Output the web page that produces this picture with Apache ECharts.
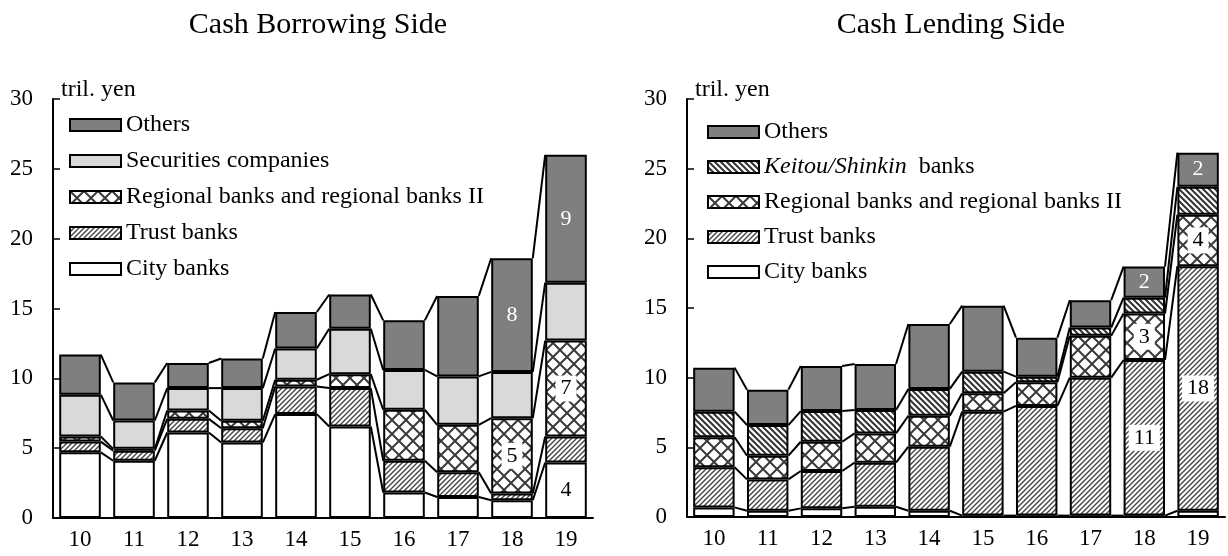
<!DOCTYPE html>
<html>
<head>
<meta charset="utf-8">
<script src="https://cdn.jsdelivr.net/npm/echarts@6/dist/echarts.min.js"></script>
<style>
  html, body { margin: 0; padding: 0; background: #fff; }
  #chart { width: 1228px; height: 556px; }
</style>
</head>
<body>
<div id="chart"></div>
<script>
// years (fiscal, 2010-2019)
const categories = ['10', '11', '12', '13', '14', '15', '16', '17', '18', '19'];

// Cash Borrowing Side, tril. yen (segment sizes, bottom to top)
const borrowCity       = [4.70, 4.10, 6.12, 5.40, 7.44, 6.55, 1.83, 1.50, 1.27, 3.97];
const borrowTrust      = [0.77, 0.72, 0.98, 1.03, 1.98, 2.75, 2.27, 1.77, 0.48, 1.87];
const borrowRegional   = [0.36, 0.13, 0.60, 0.53, 0.48, 1.00, 3.65, 3.40, 5.40, 6.86];
const borrowSecurities = [3.00, 2.03, 1.60, 2.34, 2.24, 3.25, 2.85, 3.47, 3.31, 4.15];
const borrowOthers     = [2.87, 2.73, 1.80, 2.12, 2.61, 2.45, 3.55, 5.76, 8.14, 9.15];

// Cash Lending Side, tril. yen
const lendCity     = [0.69, 0.45, 0.62, 0.74, 0.45, 0.10, 0.10, 0.10, 0.10, 0.45];
const lendTrust    = [2.88, 2.25, 2.68, 3.16, 4.60, 7.46, 7.87, 9.90, 11.17, 17.55];
const lendRegional = [2.15, 1.70, 2.10, 2.10, 2.22, 1.32, 1.70, 3.00, 3.33, 3.70];
const lendKeitou   = [1.84, 2.20, 2.20, 1.68, 1.92, 1.55, 0.40, 0.60, 1.14, 2.00];
const lendOthers   = [3.16, 2.54, 3.24, 3.30, 4.66, 4.74, 2.80, 1.96, 2.23, 2.45];

// which bars carry a value label
const borrowLabels = {city: [9], regional: [8, 9], others: [8, 9]};
const lendLabels = {trust: [8, 9], regional: [8, 9], others: [8, 9]};

const yTicks = {min: 0, max: 30, interval: 5};

const FONT = '"Liberation Serif", "Times New Roman", serif';
const BAR_RATIO = 0.77;
const LINE_W = 2;

// hatch fills
function makePattern(size, draw) {
    const c = document.createElement('canvas');
    c.width = size; c.height = size;
    const ctx = c.getContext('2d');
    ctx.fillStyle = '#fff';
    ctx.fillRect(0, 0, size, size);
    draw(ctx, size);
    return {image: c, repeat: 'repeat'};
}
const trustFill = makePattern(5, (ctx, s) => {
    ctx.strokeStyle = '#444';
    ctx.lineWidth = 1.4;
    ctx.beginPath();
    ctx.moveTo(-1, s + 1); ctx.lineTo(s + 1, -1);
    ctx.moveTo(-1, 1); ctx.lineTo(1, -1);
    ctx.moveTo(s - 1, s + 1); ctx.lineTo(s + 1, s - 1);
    ctx.stroke();
});
const keitouFill = makePattern(6, (ctx, s) => {
    ctx.strokeStyle = '#333';
    ctx.lineWidth = 2;
    ctx.beginPath();
    ctx.moveTo(-1, -1); ctx.lineTo(s + 1, s + 1);
    ctx.moveTo(s - 1, -1); ctx.lineTo(s + 1, 1);
    ctx.moveTo(-1, s - 1); ctx.lineTo(1, s + 1);
    ctx.stroke();
});
const regionalFill = makePattern(14, (ctx, s) => {
    ctx.strokeStyle = '#3a3a3a';
    ctx.lineWidth = 2;
    ctx.beginPath();
    ctx.moveTo(0, 0); ctx.lineTo(s, s);
    ctx.moveTo(0, s); ctx.lineTo(s, 0);
    ctx.stroke();
});

const fills = {
    city: '#ffffff',
    trust: trustFill,
    regional: regionalFill,
    securities: '#d9d9d9',
    keitou: keitouFill,
    others: '#7f7f7f'
};

function barSeries(name, key, values, panel, labelIdx, whiteText) {
    return {
        type: 'bar',
        name: name,
        stack: 'p' + panel,
        xAxisIndex: panel,
        yAxisIndex: panel,
        barWidth: (BAR_RATIO * 100) + '%',
        itemStyle: {color: fills[key], borderColor: '#000', borderWidth: LINE_W},
        emphasis: {disabled: true},
        data: values.map((v, i) => {
            if (!labelIdx || labelIdx.indexOf(i) < 0) return v;
            return {
                value: v,
                label: {
                    show: true,
                    position: 'inside',
                    formatter: p => Math.round(p.value),
                    fontFamily: FONT,
                    fontSize: 22,
                    color: whiteText ? '#fff' : '#000',
                    backgroundColor: whiteText ? 'transparent' : '#fff',
                    padding: whiteText ? 0 : [2, 5]
                }
            };
        })
    };
}

// lines that join each stack level from one bar to the next
function connectorSeries(panel, stacks) {
    const tops = categories.map((c, i) => {
        let s = 0;
        return stacks.map(arr => (s += arr[i]));
    });
    return {
        type: 'custom',
        xAxisIndex: panel,
        yAxisIndex: panel,
        silent: true,
        z: 3,
        data: categories.slice(0, -1).map((c, i) => [i]),
        renderItem: (params, api) => {
            const i = api.value(0);
            const half = api.size([1, 0])[0] * BAR_RATIO / 2;
            const children = tops[i].map((v, k) => {
                const a = api.coord([i, v]);
                const b = api.coord([i + 1, tops[i + 1][k]]);
                return {
                    type: 'line',
                    shape: {x1: a[0] + half, y1: a[1], x2: b[0] - half, y2: b[1]},
                    style: {stroke: '#000', lineWidth: LINE_W}
                };
            });
            return {type: 'group', children: children};
        }
    };
}

function xAxis(panel) {
    return {
        type: 'category',
        gridIndex: panel,
        data: categories,
        axisLine: {lineStyle: {color: '#000', width: LINE_W}},
        axisTick: {inside: true, length: 5, lineStyle: {color: '#000', width: 1.5}},
        axisLabel: {fontFamily: FONT, fontSize: 23, color: '#000', margin: 10}
    };
}

function yAxis(panel) {
    return {
        type: 'value',
        gridIndex: panel,
        min: yTicks.min,
        max: yTicks.max,
        interval: yTicks.interval,
        name: 'tril. yen',
        nameLocation: 'end',
        nameGap: -3,
        nameTextStyle: {
            fontFamily: FONT, fontSize: 24, color: '#000',
            align: 'left', verticalAlign: 'bottom', padding: [0, 0, 0, 8]
        },
        splitLine: {show: false},
        axisLine: {show: true, lineStyle: {color: '#000', width: LINE_W}},
        axisTick: {show: true, inside: true, length: 7, lineStyle: {color: '#000', width: 1.5}},
        axisLabel: {fontFamily: FONT, fontSize: 23, color: '#000', margin: 20}
    };
}

const legendText = {fontFamily: FONT, fontSize: 24, color: '#000', lineHeight: 24,
    rich: {i: {fontFamily: FONT, fontSize: 24, fontStyle: 'italic', color: '#000'}}};

const chart = echarts.init(document.getElementById('chart'), null, {renderer: 'canvas'});
chart.setOption({
    animation: false,
    backgroundColor: '#fff',
    title: [
        {text: 'Cash Borrowing Side', left: 313, top: 5, textAlign: 'center',
            textStyle: {fontFamily: FONT, fontSize: 30, fontWeight: 'normal', color: '#000'}},
        {text: 'Cash Lending Side', left: 946, top: 5, textAlign: 'center',
            textStyle: {fontFamily: FONT, fontSize: 30, fontWeight: 'normal', color: '#000'}}
    ],
    legend: [
        {
            left: 69, top: 113, orient: 'vertical', icon: 'rect', padding: 0,
            itemWidth: 51, itemHeight: 12, itemGap: 12,
            selectedMode: false, textStyle: legendText,
            data: ['Others', 'Securities companies', 'Regional banks and regional banks II', 'Trust banks', 'City banks']
        },
        {
            left: 707, top: 120, orient: 'vertical', icon: 'rect', padding: 0,
            itemWidth: 51, itemHeight: 12, itemGap: 11,
            selectedMode: false, textStyle: legendText,
            formatter: n => n === 'Keitou/Shinkin banks' ? '{i|Keitou/Shinkin}  banks' : n,
            data: ['Others', 'Keitou/Shinkin banks', 'Regional banks and regional banks II', 'Trust banks', 'City banks']
        }
    ],
    grid: [
        {left: 53, top: 99, width: 540, height: 419},
        {left: 687, top: 99, width: 538, height: 418}
    ],
    xAxis: [xAxis(0), xAxis(1)],
    yAxis: [yAxis(0), yAxis(1)],
    series: [
        barSeries('City banks', 'city', borrowCity, 0, borrowLabels.city, false),
        barSeries('Trust banks', 'trust', borrowTrust, 0, null, false),
        barSeries('Regional banks and regional banks II', 'regional', borrowRegional, 0, borrowLabels.regional, false),
        barSeries('Securities companies', 'securities', borrowSecurities, 0, null, false),
        barSeries('Others', 'others', borrowOthers, 0, borrowLabels.others, true),
        connectorSeries(0, [borrowCity, borrowTrust, borrowRegional, borrowSecurities, borrowOthers]),

        barSeries('City banks', 'city', lendCity, 1, null, false),
        barSeries('Trust banks', 'trust', lendTrust, 1, lendLabels.trust, false),
        barSeries('Regional banks and regional banks II', 'regional', lendRegional, 1, lendLabels.regional, false),
        barSeries('Keitou/Shinkin banks', 'keitou', lendKeitou, 1, null, false),
        barSeries('Others', 'others', lendOthers, 1, lendLabels.others, true),
        connectorSeries(1, [lendCity, lendTrust, lendRegional, lendKeitou, lendOthers])
    ]
});
</script>
</body>
</html>
